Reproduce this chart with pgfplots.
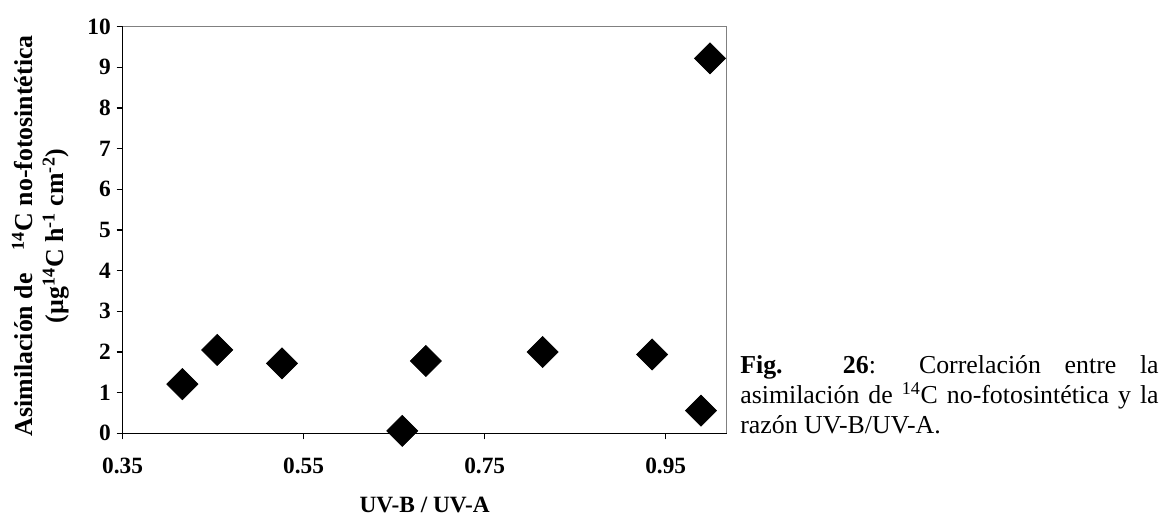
\documentclass[border=0pt]{standalone}
\usepackage{fontspec}
\setmainfont{Liberation Serif}
\usepackage{pgfplots}
\pgfplotsset{compat=1.18}

\begin{document}
\begin{tikzpicture}
\useasboundingbox (-73.6pt,-51.4pt) rectangle (627.8pt,260pt);
\begin{axis}[
  at={(0,0)}, anchor=south west,
  width=362.4pt, height=244pt, scale only axis,
  xmin=0.35, xmax=1.0174, ymin=0, ymax=10,
  axis lines=left,
  axis line style={-, black, line width=1pt},
  tick align=outside,
  major tick length=3.6pt,
  tick style={black, line width=0.8pt},
  xtick={0.35,0.55,0.75,0.95},
  xticklabels={0.35,0.55,0.75,0.95},
  ytick={0,1,...,10},
  /pgf/number format/assume math mode=true,
  tick label style={font=\bfseries\fontsize{14pt}{16pt}\selectfont},
  xticklabel style={yshift=-7.5pt},
  xlabel={UV-B / UV-A},
  every axis x label/.style={at={([yshift=-43pt]rel axis cs:0.5,0)}, anchor=center,
    font=\bfseries\fontsize{14pt}{17pt}\selectfont},
  ylabel={Asimilación de\hspace{0.9em}\textsuperscript{14}C no-fotosintética\\(µg\textsuperscript{14}C h\textsuperscript{-1} cm\textsuperscript{-2})},
  every axis y label/.style={at={([xshift=-49.3pt,yshift=-3.5pt]rel axis cs:0,0.5)}, rotate=90, anchor=center, align=center,
    font=\bfseries\fontsize{15.5pt}{18.5pt}\selectfont},
  clip=false,
]
\addplot[only marks, mark=square*, mark size=6.6pt,
  mark options={rotate=45, fill=black, draw=black}]
  coordinates {
    (0.416,1.21) (0.4545,2.05) (0.526,1.72) (0.659,0.06) (0.685,1.78)
    (0.814,2.00) (0.935,1.94) (0.989,0.56) (0.999,9.22)
  };
% plot-area frame on the top and right
\draw[gray, line width=0.8pt] (rel axis cs:0,1) -- (rel axis cs:1,1) -- (rel axis cs:1,0);
% figure caption beside the plot
\node[anchor=base west, inner sep=0pt, font=\fontsize{15.5pt}{18pt}\selectfont]
  at ([xshift=8pt,yshift=36.2pt]rel axis cs:1,0)
  {\parbox[t]{251pt}{\textbf{Fig. 26}: Correlación entre la\linebreak
   asimilación de \textsuperscript{14}C no-fotosintética y la\linebreak
   razón UV-B/UV-A.}};
\end{axis}
\end{tikzpicture}
\end{document}
